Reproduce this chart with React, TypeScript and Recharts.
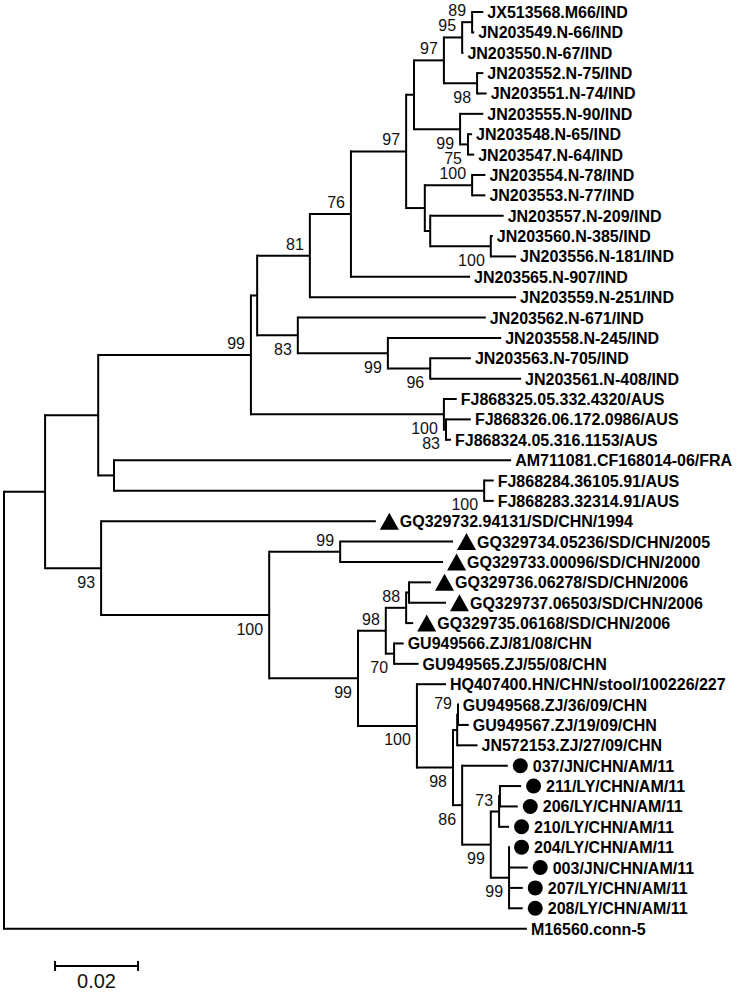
import React from 'react';
import { ComposedChart, XAxis, YAxis, Scatter, ReferenceLine } from 'recharts';

// ---------- DATA ----------
// Internal nodes: id, parent, depth from root (substitutions/site), bootstrap value, label side
const nodeIds = ['root', 'A', 'B', 'D', 'G', 'J', 'L', 'M', 'N', 'P', 'R', 'T', 'S', 'Q', 'U', 'O', 'V', 'W', 'X', 'K', 'Y', 'Z', 'H', 'I', 'E', 'F', 'C', 'AA', 'AB', 'AC', 'AD', 'AE', 'AF', 'AG', 'AH', 'AI', 'AJ', 'AK', 'AL', 'AM', 'AN', 'AP', 'AO'];
const nodeParents = ['', 'root', 'A', 'B', 'D', 'G', 'J', 'L', 'M', 'N', 'P', 'R', 'P', 'N', 'Q', 'M', 'O', 'O', 'W', 'G', 'K', 'Y', 'D', 'H', 'B', 'E', 'A', 'C', 'AA', 'AA', 'AC', 'AD', 'AE', 'AD', 'AC', 'AH', 'AI', 'AJ', 'AI', 'AL', 'AM', 'AN', 'AM'];
const nodeDepths = [0, 0.0099, 0.0227, 0.0595, 0.061, 0.0737, 0.0836, 0.0969, 0.0988, 0.106, 0.1104, 0.1128, 0.114, 0.1099, 0.1118, 0.1014, 0.1128, 0.1027, 0.1173, 0.0708, 0.0925, 0.1027, 0.106, 0.1065, 0.0265, 0.1157, 0.0234, 0.0639, 0.081, 0.0853, 0.092, 0.0969, 0.0976, 0.094, 0.0995, 0.1082, 0.1092, 0.1094, 0.1104, 0.1173, 0.1193, 0.1195, 0.1217];
const bootstrapValues: (number | null)[] = [null, null, null, 99, null, 81, 76, 97, null, 97, 95, 89, 98, 99, 75, null, 100, null, 100, 83, 99, 96, 100, 83, null, 100, 93, 100, 99, 99, 98, 88, null, 70, 100, 98, null, 79, 86, 99, 73, null, 99];
const bootstrapSide = ['', '', '', 'above', '', 'above', 'above', 'above', '', 'above', 'above', 'above', 'below', 'below', 'below', '', 'above', '', 'below', 'below', 'below', 'below', 'below', 'below', '', 'below', 'below', 'below', 'above', 'below', 'above', 'above', '', 'below', 'below', 'below', '', 'above', 'below', 'below', 'above', '', 'below'];

// Leaves (top to bottom)
const leafNames = [
  'JX513568.M66/IND', 'JN203549.N-66/IND', 'JN203550.N-67/IND', 'JN203552.N-75/IND', 'JN203551.N-74/IND',
  'JN203555.N-90/IND', 'JN203548.N-65/IND', 'JN203547.N-64/IND', 'JN203554.N-78/IND', 'JN203553.N-77/IND',
  'JN203557.N-209/IND', 'JN203560.N-385/IND', 'JN203556.N-181/IND', 'JN203565.N-907/IND', 'JN203559.N-251/IND',
  'JN203562.N-671/IND', 'JN203558.N-245/IND', 'JN203563.N-705/IND', 'JN203561.N-408/IND',
  'FJ868325.05.332.4320/AUS', 'FJ868326.06.172.0986/AUS', 'FJ868324.05.316.1153/AUS',
  'AM711081.CF168014-06/FRA', 'FJ868284.36105.91/AUS', 'FJ868283.32314.91/AUS',
  'GQ329732.94131/SD/CHN/1994', 'GQ329734.05236/SD/CHN/2005', 'GQ329733.00096/SD/CHN/2000',
  'GQ329736.06278/SD/CHN/2006', 'GQ329737.06503/SD/CHN/2006', 'GQ329735.06168/SD/CHN/2006',
  'GU949566.ZJ/81/08/CHN', 'GU949565.ZJ/55/08/CHN', 'HQ407400.HN/CHN/stool/100226/227',
  'GU949568.ZJ/36/09/CHN', 'GU949567.ZJ/19/09/CHN', 'JN572153.ZJ/27/09/CHN',
  '037/JN/CHN/AM/11', '211/LY/CHN/AM/11', '206/LY/CHN/AM/11', '210/LY/CHN/AM/11', '204/LY/CHN/AM/11',
  '003/JN/CHN/AM/11', '207/LY/CHN/AM/11', '208/LY/CHN/AM/11', 'M16560.conn-5',
];
const leafParents = ['T', 'T', 'R', 'S', 'S', 'Q', 'U', 'U', 'V', 'V', 'W', 'X', 'X', 'L', 'J', 'K', 'Y', 'Z', 'Z', 'H', 'I', 'I', 'E', 'F', 'F', 'C', 'AB', 'AB', 'AF', 'AF', 'AE', 'AG', 'AG', 'AH', 'AK', 'AK', 'AJ', 'AL', 'AP', 'AP', 'AN', 'AO', 'AO', 'AO', 'AO', 'root'];
const leafDepths = [0.1155, 0.1133, 0.1107, 0.1155, 0.1163, 0.1155, 0.1128, 0.1133, 0.116, 0.116, 0.1204, 0.1178, 0.1234, 0.1123, 0.1234, 0.1161, 0.1198, 0.1125, 0.1246, 0.1091, 0.1125, 0.1077, 0.1222, 0.118, 0.118, 0.0896, 0.1082, 0.1058, 0.1029, 0.1065, 0.0986, 0.0963, 0.0999, 0.1065, 0.1096, 0.112, 0.1141, 0.1214, 0.1246, 0.1238, 0.1217, 0.1217, 0.1262, 0.125, 0.125, 0.126];
const leafMarkers = ['', '', '', '', '', '', '', '', '', '', '', '', '', '', '', '', '', '', '', '', '', '', '', '', '',
  'triangle', 'triangle', 'triangle', 'triangle', 'triangle', 'triangle', '', '', '', '', '', '',
  'circle', 'circle', 'circle', 'circle', 'circle', 'circle', 'circle', 'circle', ''];

// Scale bar
const scaleBarStart = 0.0123;
const scaleBarLength = 0.02;
const scaleBarLabel = '0.02';
const scaleBarRow = 46.83;

// ---------- TREE BUILD ----------
const FONT = "'Liberation Sans', Arial, Helvetica, sans-serif";
const depthOf: Record<string, number> = {};
nodeIds.forEach((id, i) => { depthOf[id] = nodeDepths[i]; });
const childYs: Record<string, number[]> = {};
const childOf: Record<string, string[]> = {};
nodeIds.forEach((id) => { childYs[id] = []; childOf[id] = []; });
nodeParents.forEach((p, i) => { if (p) childOf[p].push(nodeIds[i]); });
const nodeY: Record<string, number> = {};
const leafByParent: Record<string, number[]> = {};
leafParents.forEach((p, i) => { (leafByParent[p] = leafByParent[p] || []).push(i); });
function computeY(id: string): [number, number, number] {
  const ys: number[] = [];
  (leafByParent[id] || []).forEach((i) => ys.push(i));
  childOf[id].forEach((c) => ys.push(computeY(c)[0]));
  const lo = Math.min(...ys);
  const hi = Math.max(...ys);
  const y = (lo + hi) / 2;
  nodeY[id] = y;
  childYs[id] = [lo, hi];
  return [y, lo, hi];
}
computeY('root');

type Seg = { x1: number; y1: number; x2: number; y2: number; v: boolean };
const segments: Seg[] = [];
nodeIds.forEach((id, i) => {
  const p = nodeParents[i];
  const y = nodeY[id];
  if (p) segments.push({ x1: depthOf[p], y1: y, x2: nodeDepths[i], y2: y, v: false });
  const [lo, hi] = childYs[id];
  segments.push({ x1: nodeDepths[i], y1: lo, x2: nodeDepths[i], y2: hi, v: true });
});
leafNames.forEach((_, i) => {
  const p = leafParents[i];
  if (leafDepths[i] > depthOf[p]) segments.push({ x1: depthOf[p], y1: i, x2: leafDepths[i], y2: i, v: false });
});

const leafData = leafNames.map((name, i) => ({ x: leafDepths[i], y: i, name, marker: leafMarkers[i] }));
const bootData = nodeIds
  .map((id, i) => ({ x: nodeDepths[i], y: nodeY[id], bs: bootstrapValues[i], side: bootstrapSide[i] }))
  .filter((d) => d.bs !== null);
const scaleData = [{ x: scaleBarStart + scaleBarLength / 2, y: scaleBarRow, label: scaleBarLabel }];

// ---------- SHAPES ----------
const LeafShape = (props: any) => {
  const { cx, cy, payload } = props;
  if (cx == null || cy == null) return <g />;
  let tx = cx + 4;
  let marker: React.ReactNode = null;
  if (payload.marker === 'triangle') {
    marker = <polygon points={`${cx + 4},${cy + 8.5} ${cx + 23},${cy + 8.5} ${cx + 13.5},${cy - 8.5}`} fill="#000" />;
    tx = cx + 24;
  } else if (payload.marker === 'circle') {
    marker = <circle cx={cx + 12.5} cy={cy} r={7.5} fill="#000" />;
    tx = cx + 25;
  }
  return (
    <g>
      {marker}
      <text x={tx} y={cy + 6} fontSize={16} fontWeight="bold" fontFamily={FONT} fill="#000">{payload.name}</text>
    </g>
  );
};

const BootShape = (props: any) => {
  const { cx, cy, payload } = props;
  if (cx == null || cy == null) return <g />;
  return (
    <text x={cx - 6} y={payload.side === 'above' ? cy - 6 : cy + 19.5} textAnchor="end" fontSize={16} fontFamily={FONT} fill="#111">
      {payload.bs}
    </text>
  );
};

const ScaleLabelShape = (props: any) => {
  const { cx, cy, payload } = props;
  if (cx == null || cy == null) return <g />;
  return (
    <text x={cx} y={cy + 22} textAnchor="middle" fontSize={20} fontFamily={FONT} fill="#111">{payload.label}</text>
  );
};

const PX_PER_UNIT = 4150;
const ROW = 20.37;

export default function App() {
  const xMin = -4 / PX_PER_UNIT;
  const xMax = (742 - 4) / PX_PER_UNIT;
  const yMin = -12 / ROW;
  const yMax = (992 - 12) / ROW;
  const tickHalf = 5 / ROW;
  return (
    <div style={{ position: 'absolute', left: 0, top: 0, width: 742, height: 992, background: '#fff' }}>
      <ComposedChart width={742} height={992} margin={{ top: 0, right: 0, bottom: 0, left: 0 }}>
        <XAxis type="number" dataKey="x" domain={[xMin, xMax]} allowDataOverflow hide />
        <YAxis type="number" dataKey="y" domain={[yMin, yMax]} allowDataOverflow reversed hide />
        {segments.map((s, i) => (
          <ReferenceLine
            key={`seg-${i}`}
            segment={[{ x: s.x1, y: s.y1 }, { x: s.x2, y: s.y2 }]}
            stroke="#000"
            strokeWidth={2}
            strokeLinecap={s.v ? 'square' : 'butt'}
            ifOverflow="visible"
          />
        ))}
        <ReferenceLine
          segment={[{ x: scaleBarStart, y: scaleBarRow }, { x: scaleBarStart + scaleBarLength, y: scaleBarRow }]}
          stroke="#000" strokeWidth={2} ifOverflow="visible"
        />
        <ReferenceLine
          segment={[{ x: scaleBarStart, y: scaleBarRow - tickHalf }, { x: scaleBarStart, y: scaleBarRow + tickHalf }]}
          stroke="#000" strokeWidth={2} ifOverflow="visible"
        />
        <ReferenceLine
          segment={[{ x: scaleBarStart + scaleBarLength, y: scaleBarRow - tickHalf }, { x: scaleBarStart + scaleBarLength, y: scaleBarRow + tickHalf }]}
          stroke="#000" strokeWidth={2} ifOverflow="visible"
        />
        <Scatter data={leafData} shape={LeafShape} isAnimationActive={false} legendType="none" />
        <Scatter data={bootData} shape={BootShape} isAnimationActive={false} legendType="none" />
        <Scatter data={scaleData} shape={ScaleLabelShape} isAnimationActive={false} legendType="none" />
      </ComposedChart>
    </div>
  );
}
